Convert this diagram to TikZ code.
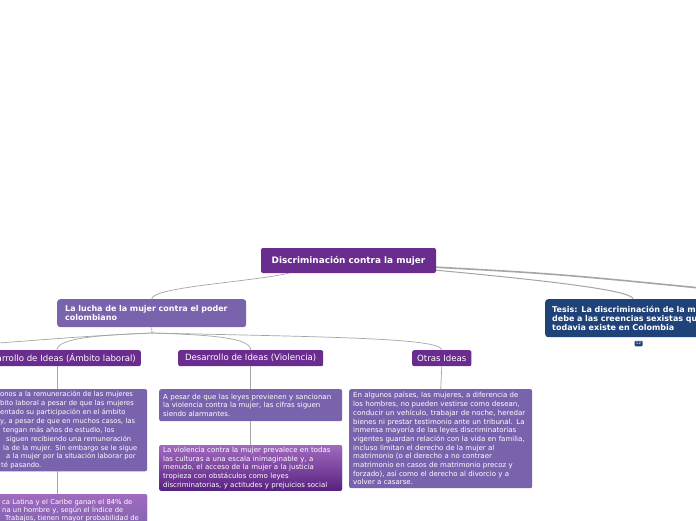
\documentclass[tikz,border=0pt]{standalone}
\usepackage{fontspec}
\setmainfont{DejaVu Sans}
\usetikzlibrary{positioning}
\definecolor{Map_Purple}{HTML}{6A2C8E}
\definecolor{Map_Lilac}{HTML}{7A63AD}
\definecolor{Map_Blue}{HTML}{1F4279}
\definecolor{Map_Grey}{HTML}{A5A5A5}
\definecolor{Map_Top}{HTML}{A16ABF}
\definecolor{Map_Bottom}{HTML}{57217F}

\begin{document}
\begin{tikzpicture}[x=1pt, y=-1pt,
    topic/.style={fill=Map_Purple, text=white, rounded corners=2pt, inner xsep=5pt, inner ysep=0pt,
        minimum height=16pt, font=\fontsize{8.6}{9}\selectfont},
    body/.style={fill=Map_Lilac, text=white, rounded corners=2pt, align=left, anchor=north west,
        inner xsep=4pt, inner ysep=2pt, font=\fontsize{7}{8.7}\selectfont},
    link/.style={draw=Map_Grey, line width=0.7pt}]
    \clip (0,0) rectangle (696,520);
    \fill[white] (0,0) rectangle (696,520);

    % Central topic
    \node[topic, minimum width=175pt, minimum height=25pt, font=\bfseries\fontsize{8.9}{10}\selectfont]
        (main) at (348.5,260.5) {Discriminación contra la mujer};

    % Main branches
    \node[body, fill=Map_Lilac, rounded corners=3pt, text width=173pt, inner xsep=8pt, minimum height=28pt,
        font=\bfseries\fontsize{8}{8.8}\selectfont] (lucha) at (57,299)
        {La lucha de la mujer contra el poder\\colombiano};
    \node[body, fill=Map_Blue, rounded corners=3pt, text width=200pt, inner xsep=7pt, minimum height=38pt,
        font=\bfseries\fontsize{8}{9}\selectfont] (tesis) at (545,299)
        {Tesis: La discriminación de la mujer se\\debe a las creencias sexistas que\\todavia existe en Colombia};
    \node[fill=Map_Blue, text=white, rounded corners=1pt, inner sep=0pt, minimum width=8pt, minimum height=5.5pt,
        font=\fontsize{4}{4}\selectfont] (badge) at (638.5,343.5) {12};
    \coordinate (offR) at (760,294);

    % Sub topics
    \node[topic, anchor=north east] (laboral) at (141,350) {Desarrollo de Ideas (Ámbito laboral)};
    \node[topic, anchor=north west, minimum width=145pt] (violencia) at (178,350) {Desarrollo de Ideas (Violencia)};
    \node[topic, anchor=north west, minimum width=58pt] (otras) at (412,350) {Otras Ideas};
    \coordinate (hub) at (152,333);
    \coordinate (offL) at (-40,346);
    \coordinate (lx) at (57,0);

    % Ideas
    \node[body, text width=143pt, minimum height=81pt, font=\fontsize{6.8}{8.9}\selectfont] (laboralA) at (-4,389)
        {onos a la remuneración de las mujeres\\
         bito laboral a pesar de que las mujeres\\
         entado su participación en el ámbito\\
         y, a pesar de que en muchos casos, las\\
         \hspace*{3pt}tengan más años de estudio, los\\
         \hspace*{6pt}siguen recibiendo una remuneración\\
         \hspace*{3pt}la de la mujer. Sin embargo se le sigue\\
         \hspace*{6pt}a la mujer por la situación laborar por\\
         \hspace*{1pt}té pasando.};
    \node[body, text width=143pt, minimum height=40pt, top color=Map_Top, bottom color=Map_Lilac,
        font=\fontsize{6.8}{8.2}\selectfont] (laboralB) at (-4,494)
        {\hspace*{2pt}ca Latina y el Caribe ganan el 84\% de\\
         \hspace*{2pt}na un hombre y, según el Índice de\\
         \hspace*{5pt}Trabajos, tienen mayor probabilidad de\\ \mbox{}};
    \node[body, text width=175pt, minimum height=32pt] (violenciaA) at (159,389)
        {A pesar de que las leyes previenen y sancionan\\
         la violencia contra la mujer, las cifras siguen\\
         siendo alarmantes.};
    \node[body, text width=175pt, minimum height=45pt, top color=Map_Top, bottom color=Map_Bottom] (violenciaB) at (159,445)
        {La violencia contra la mujer prevalece en todas\\
         las culturas a una escala inimaginable y, a\\
         menudo, el acceso de la mujer a la justicia\\
         tropieza con obstáculos como leyes\\
         discriminatorias, y actitudes y prejuicios social};
    \node[body, text width=175pt, minimum height=99pt] (otrasA) at (349,389)
        {En algunos países, las mujeres, a diferencia de\\
         los hombres, no pueden vestirse como desean,\\
         conducir un vehículo, trabajar de noche, heredar\\
         bienes ni prestar testimonio ante un tribunal. La\\
         inmensa mayoría de las leyes discriminatorias\\
         vigentes guardan relación con la vida en familia,\\
         incluso limitan el derecho de la mujer al\\
         matrimonio (o el derecho a no contraer\\
         matrimonio en casos de matrimonio precoz y\\
         forzado), así como el derecho al divorcio y a\\
         volver a casarse.};

    % Connectors
    \draw[link] ([xshift=28pt]main.south west) .. controls (250,282) and (152,287) .. (lucha.north);
    \draw[link, line width=1.6pt] ([yshift=6pt]main.south east) .. controls (560,274) .. (offR);
    \draw[link, line width=1pt] ([yshift=3pt]main.south east) .. controls (540,280) and (633,290) .. ([xshift=88pt]tesis.north west);
    \draw[link] (lucha.south) -- (hub);
    \draw[link] (hub) .. controls (90,336) .. (offL);
    \draw[link] (hub) .. controls (100,335) and (57,338) .. (laboral.north -| lx);
    \draw[link] (hub) .. controls (215,335) and (250,338) .. (violencia.north);
    \draw[link] (hub) .. controls (330,337) and (441,338) .. (otras.north);
    \draw[link] (laboral.south -| lx) -- (laboralA.north -| lx);
    \draw[link] (laboralA.south -| lx) -- (laboralB.north -| lx);
    \draw[link] (violencia.south) -- (violenciaA.north);
    \draw[link] (violenciaA.south) -- (violenciaB.north);
    \draw[link] (otras.south) -- (otrasA.north);
\end{tikzpicture}
\end{document}
